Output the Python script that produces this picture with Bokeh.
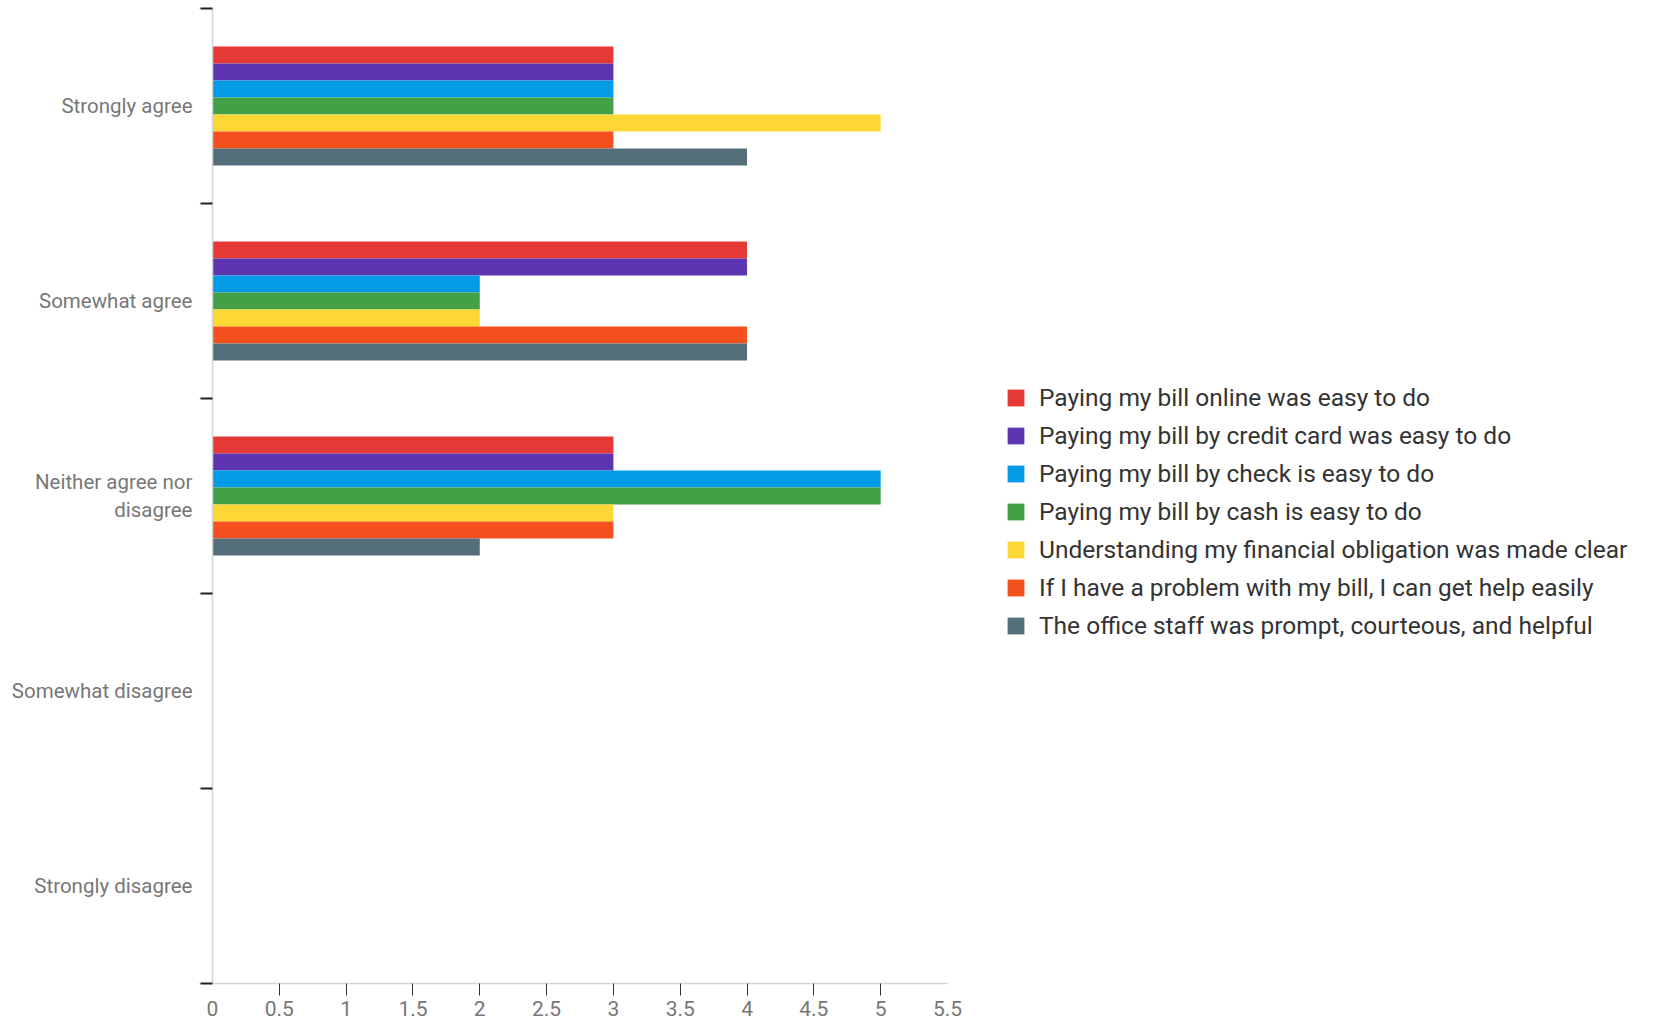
from bokeh.plotting import figure
from bokeh.models import (ColumnDataSource, FactorRange, Range1d, CategoricalAxis,
                          FixedTicker, Legend, LegendItem)
from bokeh.transform import dodge
from bokeh.embed import file_html
from bokeh.resources import INLINE

categories = ["Strongly agree", "Somewhat agree", "Neither agree nor\ndisagree",
              "Somewhat disagree", "Strongly disagree"]
series_names = [
    "Paying my bill online was easy to do",
    "Paying my bill by credit card was easy to do",
    "Paying my bill by check is easy to do",
    "Paying my bill by cash is easy to do",
    "Understanding my financial obligation was made clear",
    "If I have a problem with my bill, I can get help easily",
    "The office staff was prompt, courteous, and helpful",
]
online = [3, 4, 3, 0, 0]
credit_card = [3, 4, 3, 0, 0]
check = [3, 2, 5, 0, 0]
cash = [3, 2, 5, 0, 0]
obligation = [5, 2, 3, 0, 0]
problem_help = [3, 4, 3, 0, 0]
office_staff = [4, 4, 2, 0, 0]
series_values = [online, credit_card, check, cash, obligation, problem_help, office_staff]
colors = ["#E53935", "#5E35B1", "#039BE5", "#43A047", "#FDD835", "#F4511E", "#546E7A"]
x_ticks = [0, 0.5, 1, 1.5, 2, 2.5, 3, 3.5, 4, 4.5, 5, 5.5]
x_tick_marks = [0.5, 1, 1.5, 2, 2.5, 3, 3.5, 4, 4.5, 5]

FONT = "Roboto"
LABEL_GRAY = "#777777"

y_range = FactorRange(factors=list(reversed(categories)), range_padding=0)
p = figure(frame_width=735, frame_height=975, y_range=y_range, x_range=Range1d(0, 5.5),
           output_backend="svg", toolbar_location=None, y_axis_location=None,
           min_border_left=212, min_border_top=8, min_border_bottom=40, min_border_right=0)
p.outline_line_color = None
p.grid.visible = False
p.background_fill_color = "white"
p.border_fill_color = "white"

data = {"cat": categories}
for i, vals in enumerate(series_values):
    data[f"s{i}"] = vals
src = ColumnDataSource(data)

bar_h = 0.087
items = []
n = len(series_values)
for i in range(n):
    off = (n - 1) / 2 * bar_h - i * bar_h
    r = p.hbar(y=dodge("cat", off, range=p.y_range), left=0, right=f"s{i}", height=bar_h,
               source=src, fill_color=colors[i], line_color=None)
    items.append(LegendItem(label=series_names[i], renderers=[r]))

# x axis: labels at every 0.5, tick marks only between the ends
xa = p.xaxis[0]
xa.ticker = FixedTicker(ticks=x_ticks, minor_ticks=x_tick_marks)
xa.axis_line_color = "#d4d4d4"
xa.axis_line_width = 1.5
xa.major_tick_line_color = None
xa.major_tick_out = 12
xa.major_tick_in = 0
xa.minor_tick_line_color = "#333333"
xa.minor_tick_out = 12
xa.minor_tick_in = 0
xa.major_label_text_font = FONT
xa.major_label_text_font_size = "21px"
xa.major_label_text_color = LABEL_GRAY
xa.major_label_standoff = 5

# inner y axis: boundary ticks between categories (factor range shifted by half a band)
bounds = ["b0", "b1", "b2", "b3", "b4", "b5"]
p.extra_y_ranges = {"bounds": FactorRange(factors=bounds, range_padding=-0.4995,
                                          range_padding_units="absolute")}
ya_b = CategoricalAxis(y_range_name="bounds",
                       major_label_overrides={b: "" for b in bounds})
ya_b.axis_line_color = "#d4d4d4"
ya_b.axis_line_width = 1.5
ya_b.major_tick_line_color = "#222222"
ya_b.major_tick_line_width = 2
ya_b.major_tick_out = 12
ya_b.major_tick_in = 0
ya_b.major_label_standoff = 0
ya_b.major_label_text_font_size = "1px"
p.add_layout(ya_b, "left")

# outer categorical axis for labels
ya_c = CategoricalAxis()
ya_c.axis_line_color = None
ya_c.major_tick_line_color = None
ya_c.major_tick_out = 0
ya_c.major_tick_in = 0
ya_c.major_label_standoff = 4
ya_c.major_label_text_font = FONT
ya_c.major_label_text_font_size = "20.5px"
ya_c.major_label_text_color = LABEL_GRAY
ya_c.major_label_text_line_height = 1.2
p.add_layout(ya_c, "left")

legend = Legend(items=items, location=(58, 343), orientation="vertical")
legend.label_text_font = FONT
legend.label_text_font_size = "24.5px"
legend.label_text_color = "#333333"
legend.glyph_width = 21
legend.glyph_height = 21
legend.label_standoff = 13
legend.spacing = 9
legend.padding = 0
legend.margin = 0
legend.border_line_color = None
legend.background_fill_alpha = 0
p.add_layout(legend, "right")

open("out.html", "w").write(file_html(p, INLINE))
